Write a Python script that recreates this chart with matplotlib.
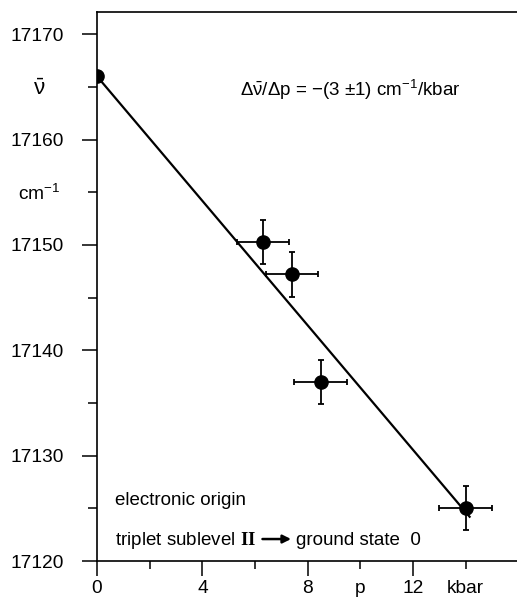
import matplotlib
matplotlib.use("Agg")
import matplotlib.pyplot as plt

plt.rcParams['font.family'] = ['Liberation Sans', 'DejaVu Sans']
plt.rcParams['mathtext.fontset'] = 'custom'
plt.rcParams['mathtext.rm'] = 'Liberation Sans'
plt.rcParams['mathtext.it'] = 'Liberation Sans'
plt.rcParams['mathtext.bf'] = 'Liberation Serif:bold'

# measured points: pressure (kbar), wavenumber (cm-1), errors
p = [0.0, 6.3, 7.4, 8.5, 14.0]
nu = [17166.0, 17150.3, 17147.2, 17137.0, 17125.0]
p_err = [0.0, 1.0, 1.0, 1.0, 1.0]
nu_err = [0.0, 2.1, 2.1, 2.1, 2.1]

# fitted line
fit_p = [0.0, 14.15]
fit_nu = [17166.0, 17124.2]

xmajor = [0, 4, 8, 12]
xmajor_labels = ['0', '4', '8', '12']
xminor = [2, 6, 10, 14]
xminor_labels = ['', '', 'p', 'kbar']
ymajor = [17120, 17130, 17140, 17150, 17160, 17170]
yminor = [17125, 17135, 17145, 17155, 17165]
yminor_labels = ['', '', '', 'cm$^{-1}$', r'$\bar{\nu}$']

fig = plt.figure(figsize=(5.17, 6.0), dpi=100)
ax = fig.add_axes([0.1876, 0.065, 0.8124, 0.915])

ax.plot(fit_p, fit_nu, color='black', lw=1.6, zorder=2)
# error bars without the first point's (it has none)
ax.errorbar(p[1:], nu[1:], xerr=p_err[1:], yerr=nu_err[1:], fmt='none',
            ecolor='black', elinewidth=1.3, capsize=2.5, capthick=1.3, zorder=3)
ax.plot(p, nu, 'o', color='black', ms=9.5, zorder=4)

ax.set_xlim(0, 15.95)
ax.set_ylim(17120, 17172.1)

ax.set_xticks(xmajor)
ax.set_xticklabels(xmajor_labels)
ax.set_xticks(xminor, minor=True)
ax.set_xticklabels(xminor_labels, minor=True)
ax.set_yticks(ymajor)
ax.set_yticklabels([str(v) for v in ymajor], ha='center')
ax.set_yticks(yminor, minor=True)
ax.set_yticklabels(yminor_labels, minor=True, ha='center')

ax.tick_params(which='major', direction='out', length=11, width=1.1,
               labelsize=13.8)
ax.tick_params(axis='x', which='minor', direction='out', length=6, width=1.1,
               labelsize=13.8, pad=8)
ax.tick_params(axis='x', which='major', pad=3)
ax.tick_params(axis='y', which='minor', direction='out', length=6.5, width=1.1,
               labelsize=13.8, pad=35)
ax.tick_params(axis='y', which='major', pad=32)
# the nu-bar label is drawn a bit bigger
ax.get_yticklabels(minor=True)[-1].set_fontsize(16)

ax.spines['right'].set_visible(False)
for s in ['left', 'bottom', 'top']:
    ax.spines[s].set_linewidth(1.2)

ax.text(0.34, 0.858, r'$\Delta\bar{\nu}/\Delta p$ = $-$(3 $\pm$1) cm$^{-1}$/kbar',
        transform=ax.transAxes, ha='left', va='center', fontsize=13.5)
ax.text(0.043, 0.111, 'electronic origin', transform=ax.transAxes,
        ha='left', va='center', fontsize=13.5)
ax.text(0.043, 0.038, r'triplet sublevel $\mathbf{II}$',
        transform=ax.transAxes, ha='left', va='center', fontsize=13.5)
ax.annotate('', xy=(0.462, 0.040), xytext=(0.394, 0.040),
            xycoords='axes fraction', textcoords='axes fraction',
            arrowprops=dict(arrowstyle='-|>', color='black', lw=1.8,
                            mutation_scale=12, shrinkA=0, shrinkB=0))
ax.text(0.473, 0.038, 'ground state  0', transform=ax.transAxes,
        ha='left', va='center', fontsize=13.5)

fig.savefig('out.png', dpi=100)
